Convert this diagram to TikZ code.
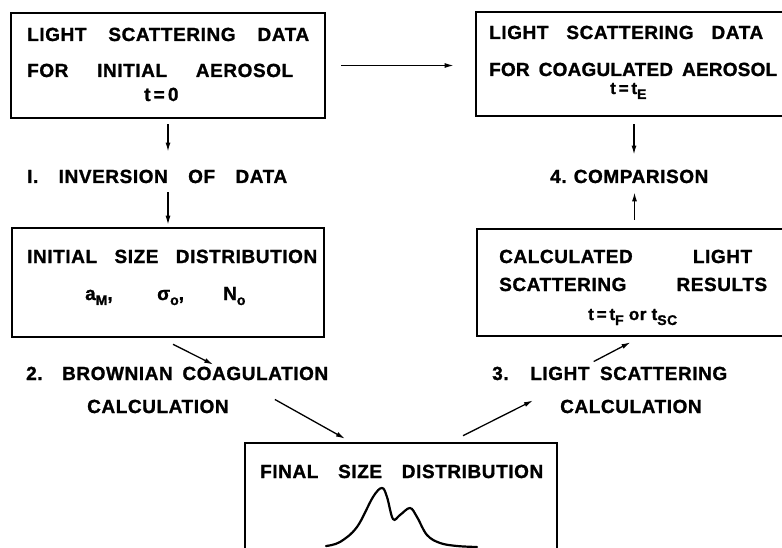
\documentclass[tikz,border=0pt]{standalone}
\usepackage{fontspec}
\setmainfont{Liberation Sans}
\newfontfamily\lettering{Liberation Sans}[LetterSpace=3, BoldFeatures={FakeBold=1.2}]
\usetikzlibrary{arrows.meta}

\newcommand{\spread}[2]{\makebox[#1][s]{#2}}
\newcommand{\subs}[1]{\raisebox{-5pt}{\fontsize{14}{14}\selectfont #1}}

\tikzset{
  box/.style={draw, line width=2.6pt, inner sep=0pt},
  txt/.style={inner sep=0pt, anchor=base west, font=\lettering\bfseries\fontsize{19}{22}\selectfont},
  small/.style={txt, font=\lettering\bfseries\fontsize{17}{20}\selectfont},
  arr/.style={-{Latex[length=9pt,width=5pt]}, line width=1.3pt},
}

\begin{document}
\begin{tikzpicture}[x=1pt,y=-1pt]
\useasboundingbox (0,0) rectangle (782,548);
\clip (0,0) rectangle (782,548);

% top row
\node[box, minimum width=314pt, minimum height=105pt] (lsinit) at (168,65.5) {};
\node[txt] (lsinit1) at (27,41) {\spread{282pt}{LIGHT SCATTERING DATA}};
\node[txt] (lsinit2) at (27,77) {\spread{266pt}{FOR INITIAL AEROSOL}};
\node[txt] (lsinit3) at (144,101) {t{\,}={\,}0};

\node[box, minimum width=316pt, minimum height=104pt] (lscoag) at (634,64) {};
\node[txt] (lscoag1) at (489,39) {\spread{274pt}{LIGHT SCATTERING DATA}};
\node[txt] (lscoag2) at (489,76) {\addfontfeature{LetterSpace=1}\spread{288pt}{FOR COAGULATED AEROSOL}};
\node[small] (lscoag3) at (610,94) {t{\,}={\,}t\subs{E}};

% step labels
\node[txt] (invert) at (27,183) {\spread{260pt}{I. INVERSION OF DATA}};
\node[txt] (compare) at (550,183) {\spread{158pt}{4. COMPARISON}};

% middle row
\node[box, minimum width=312pt, minimum height=109pt] (initdist) at (168,282.5) {};
\node[txt] (initdist1) at (27,263) {\spread{290pt}{INITIAL SIZE DISTRIBUTION}};
\node[txt] (amean) at (85,300) {a\subs{M},};
\node[txt] (sigma) at (157,300) {σ\subs{o},};
\node[txt] (number) at (223,300) {N\subs{o}};

\node[box, minimum width=315pt, minimum height=107pt] (calcres) at (634.5,282.5) {};
\node[txt] (calcres1) at (499,263) {\spread{253pt}{CALCULATED LIGHT}};
\node[txt] (calcres2) at (499,291) {\spread{268pt}{SCATTERING RESULTS}};
\node[small] (calcres3) at (588,320) {t{\,}={\,}t\subs{F} or t\subs{SC}};

\node[txt] (brown) at (26,380) {\spread{302pt}{2. BROWNIAN COAGULATION}};
\node[txt] (calcl) at (87,413) {CALCULATION};
\node[txt] (scatter) at (492,380) {\spread{235pt}{3. LIGHT SCATTERING}};
\node[txt] (calcr) at (560,413) {CALCULATION};

% bottom box
\node[box, minimum width=312pt, minimum height=177pt] (final) at (401,531.5) {};
\node[txt] (final1) at (260,478) {\spread{283pt}{FINAL SIZE DISTRIBUTION}};
\draw[line width=2.2pt, line cap=round] plot[smooth, tension=0.6] coordinates {
  (326,546) (340,542) (357,527) (373,497) (382,488) (387,497) (393,519)
  (400,515) (410,508) (417,517) (427,535) (440,543) (457,546) (477,547)};

% connectors
\draw[arr, shorten <=15pt, shorten >=21pt] (lsinit.east) -- (lsinit.east -| lscoag.west);
\draw[arr, shorten <=5pt, shorten >=18pt] (lsinit.south) -- (lsinit.south |- invert.north);
\draw[arr, shorten <=9pt, shorten >=2pt] (invert.south -| initdist.north) -- (initdist.north);
\draw[arr, shorten <=7pt, shorten >=15pt] (lscoag.south) -- (lscoag.south |- compare.north);
\draw[arr, shorten <=8pt, shorten >=9pt] (calcres.north) -- (calcres.north |- compare.south);
\draw[arr] ([xshift=5pt,yshift=-6pt]initdist.south) -- ([xshift=36pt,yshift=2pt]brown.north);
\draw[arr] ([xshift=46pt,yshift=7pt]calcl.east) -- ([xshift=-56pt,yshift=3pt]final.north);
\draw[arr] ([xshift=62pt,yshift=6pt]final.north) -- ([xshift=-27pt,yshift=6pt]calcr.west);
\draw[arr] ([xshift=-16pt,yshift=5pt]scatter.north) -- ([xshift=-4pt,yshift=-5pt]calcres.south);
\end{tikzpicture}
\end{document}
